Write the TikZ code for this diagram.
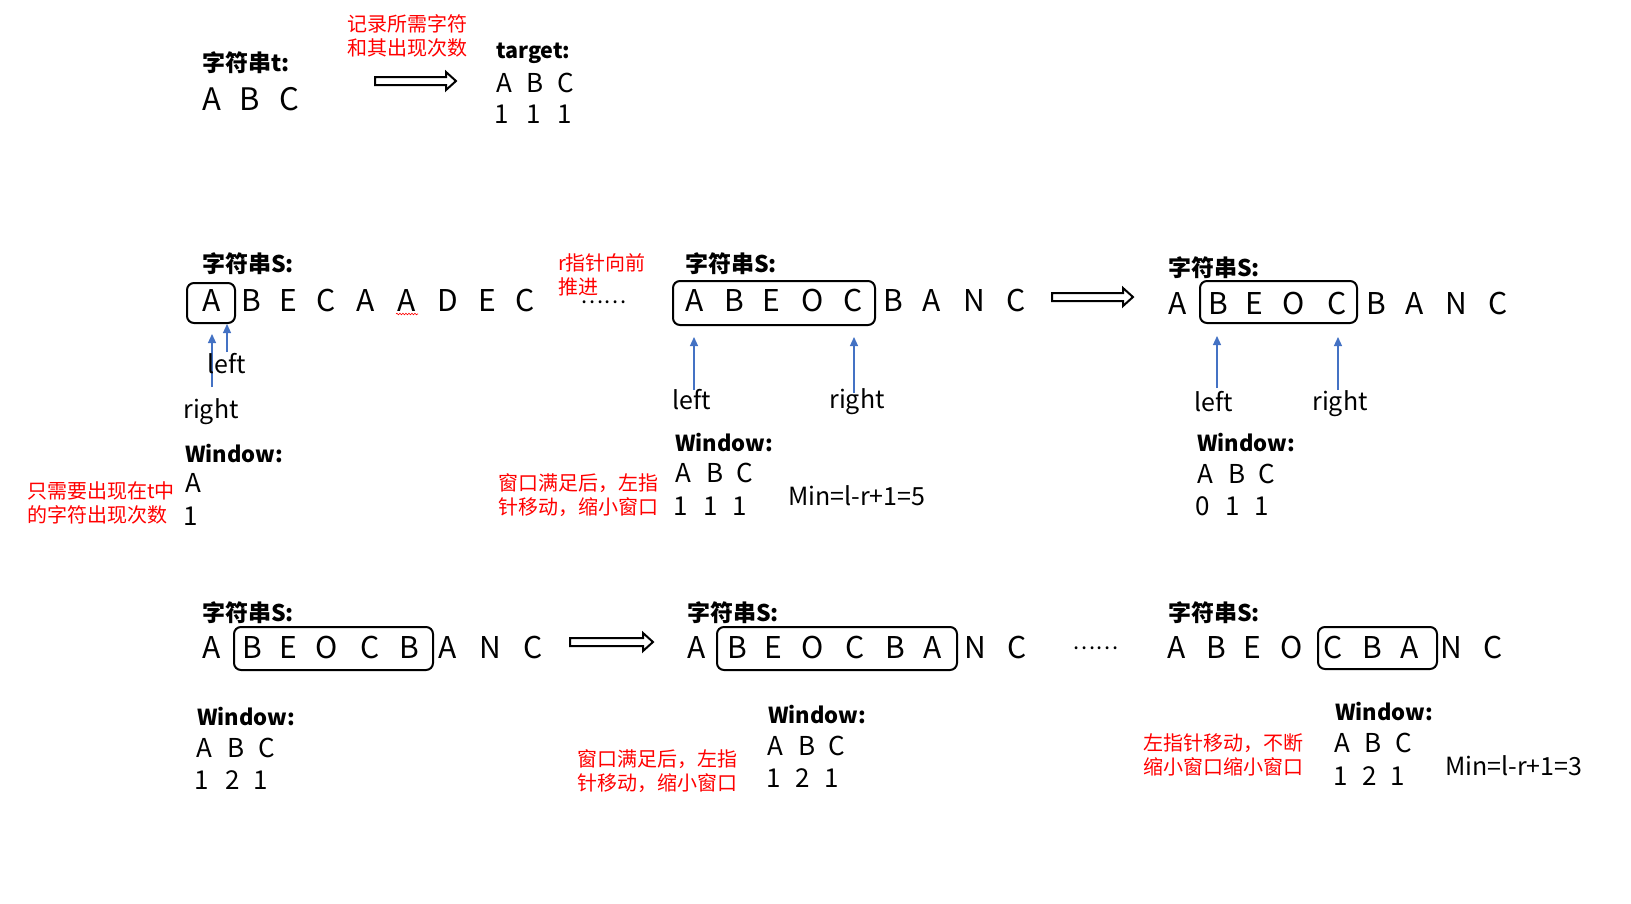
\documentclass[tikz,border=0pt]{standalone}
\usepackage{fontspec}
\setmainfont{Noto Sans CJK SC}
\usetikzlibrary{arrows.meta,decorations.pathmorphing}
\definecolor{ptrblue}{HTML}{4472C4}
\definecolor{notered}{HTML}{FF0000}
\tikzset{
  big/.style={font=\fontsize{30}{30}\selectfont, inner sep=0pt, anchor=base},
  bigt/.style={font=\fontsize{31}{31}\selectfont, inner sep=0pt, anchor=base},
  small/.style={font=\fontsize{26}{26}\selectfont, inner sep=0pt, anchor=base},
  head/.style={font=\bfseries\fontsize{23}{23}\selectfont, inner sep=0pt, anchor=base west},
  winlabel/.style={font=\bfseries\fontsize{22}{22}\selectfont, inner sep=0pt, anchor=base west},
  ptrlabel/.style={font=\fontsize{25}{25}\selectfont, inner sep=0pt, anchor=base},
  formula/.style={font=\fontsize{25}{25}\selectfont, inner sep=0pt, anchor=base west},
  note/.style={text=notered, font=\fontsize{20}{24.5}\selectfont, inner sep=0pt, align=left, anchor=west},
  dotsstyle/.style={font=\fontsize{22}{22}\selectfont, inner sep=0pt, anchor=base},
  winbox/.style={draw, line width=2pt, rounded corners=7pt},
  ptr/.style={draw=ptrblue, line width=1.2pt, -{Triangle[length=9pt,width=8pt]}},
  bigarrow/.style={draw, line width=2pt, fill=white, line join=miter},
}
\newcommand\letterrow[4]{\foreach \x/\c [count=\i] in {#4} {\node[#3] (#1\i) at (\x,#2) {\c};}}
\newcommand\fatarrow[3]{%
  \draw[bigarrow] (#1,#3-4) -- (#2-11,#3-4) -- (#2-11,#3-9) -- (#2-1,#3) -- (#2-11,#3+9) -- (#2-11,#3+4) -- (#1,#3+4) -- cycle;}
\newcommand\sixdots{.\kern1.6pt.\kern1.6pt.\kern1.6pt.\kern1.6pt.\kern1.6pt.}
\begin{document}
\begin{tikzpicture}[x=1pt,y=-1pt]
\useasboundingbox[fill=white] (0,0) rectangle (1631,903);

% ---------- top ----------
\node[head] (tlabel) at (202,71) {字符串t:};
\letterrow{t}{110}{bigt}{212/A,250/B,289/C}
\fatarrow{375}{457}{81}
\node[note, anchor=center] (note1) at (407,36) {记录所需字符\\和其出现次数};
\node[head, font=\bfseries\fontsize{21.5}{21.5}\selectfont] (targetlabel) at (496,58) {target:};
\letterrow{tg}{92}{small}{504/A,535/B,566/C}
\letterrow{tn}{123}{small}{502/1,534/1,565/1}

% ---------- row 2 left ----------
\node[head] (s1label) at (202,272) {字符串S:};
\draw[winbox] (187,283) rectangle (235,323);
\letterrow{a}{311}{big}{212/A,251/B,288/E,326/C,366/A,407/A,448/D,487/E,525/C}
\draw[notered, line width=0.6pt, decorate, decoration={snake, amplitude=0.8pt, segment length=3pt}] (396,314) -- (418,314);
\node[note] (note2) at (558,275) {r指针向前\\推进};
\node[dotsstyle] (dots1) at (604,303) {\sixdots};
\coordinate (ar1) at (212,387);
\coordinate (al1) at (227,352);
\draw[ptr] (ar1) -- (212,334);
\draw[ptr] (al1) -- (227,324);
\node[ptrlabel] (left1) at (227,373) {left};
\node[ptrlabel] (right1) at (211,418) {right};
\node[winlabel] (win1) at (185,462) {Window:};
\node[small] (w1a) at (193,492) {A};
\node[small] (w1n) at (191,525) {1};
\node[note] (note3) at (27,503) {只需要出现在t中\\的字符出现次数};
\node[note] (note4) at (498,495) {窗口满足后，左指\\针移动，缩小窗口};

% ---------- row 2 middle ----------
\node[head] (s2label) at (685,272) {字符串S:};
\draw[winbox] (673,281) rectangle (875,325);
\letterrow{b}{311}{big}{695/A,734/B,771/E,813/O,853/C,893/B,932/A,974/N,1016/C}
\coordinate (bl) at (694,390);
\coordinate (br) at (854,393);
\draw[ptr] (bl) -- (694,337);
\draw[ptr] (br) -- (854,337);
\node[ptrlabel] (left2) at (692,409) {left};
\node[ptrlabel] (right2) at (857,408) {right};
\node[winlabel] (win2) at (675,451) {Window:};
\letterrow{w2a}{482}{small}{683/A,715/B,745/C}
\letterrow{w2n}{515}{small}{681/1,711/1,740/1}
\node[formula] (min1) at (788,505) {Min=l-r+1=5};
\fatarrow{1052}{1134}{297}

% ---------- row 2 right ----------
\node[head] (s3label) at (1168,276) {字符串S:};
\draw[winbox] (1200,281) rectangle (1357,323);
\letterrow{c}{314}{big}{1178/A,1218/B,1254/E,1294/O,1337/C,1376/B,1415/A,1456/N,1498/C}
\coordinate (cl) at (1217,388);
\coordinate (cr) at (1338,390);
\draw[ptr] (cl) -- (1217,336);
\draw[ptr] (cr) -- (1338,337);
\node[ptrlabel] (left3) at (1214,411) {left};
\node[ptrlabel] (right3) at (1340,410) {right};
\node[winlabel] (win3) at (1197,451) {Window:};
\letterrow{w3a}{483}{small}{1205/A,1237/B,1267/C}
\letterrow{w3n}{515}{small}{1203/0,1233/1,1262/1}

% ---------- row 3 left ----------
\node[head] (s4label) at (202,621) {字符串S:};
\draw[winbox] (234,627) rectangle (433,670);
\letterrow{d}{658}{big}{212/A,252/B,288/E,327/O,370/C,409/B,448/A,490/N,533/C}
\fatarrow{570}{654}{642}
\node[winlabel] (win4) at (197,725) {Window:};
\letterrow{w4a}{757}{small}{204/A,236/B,267/C}
\letterrow{w4n}{789}{small}{202/1,233/2,261/1}

% ---------- row 3 middle ----------
\node[head] (s5label) at (687,621) {字符串S:};
\draw[winbox] (717,627) rectangle (957,670);
\letterrow{e}{658}{big}{697/A,737/B,773/E,813/O,855/C,895/B,933/A,975/N,1017/C}
\node[winlabel] (win5) at (768,723) {Window:};
\letterrow{w5a}{755}{small}{775/A,807/B,837/C}
\letterrow{w5n}{787}{small}{774/1,803/2,832/1}
\node[note] (note5) at (577,771) {窗口满足后，左指\\针移动，缩小窗口};

% ---------- row 3 right ----------
\node[dotsstyle] (dots2) at (1096,649) {\sixdots};
\node[head] (s6label) at (1168,621) {字符串S:};
\draw[winbox] (1318,627) rectangle (1437,669);
\letterrow{f}{658}{big}{1177/A,1216/B,1252/E,1292/O,1333/C,1372/B,1410/A,1451/N,1493/C}
\node[note] (note6) at (1143,755) {左指针移动，不断\\缩小窗口缩小窗口};
\node[winlabel] (win6) at (1335,720) {Window:};
\letterrow{w6a}{752}{small}{1342/A,1373/B,1404/C}
\letterrow{w6n}{785}{small}{1341/1,1370/2,1398/1}
\node[formula] (min2) at (1445,775) {Min=l-r+1=3};
\end{tikzpicture}
\end{document}
